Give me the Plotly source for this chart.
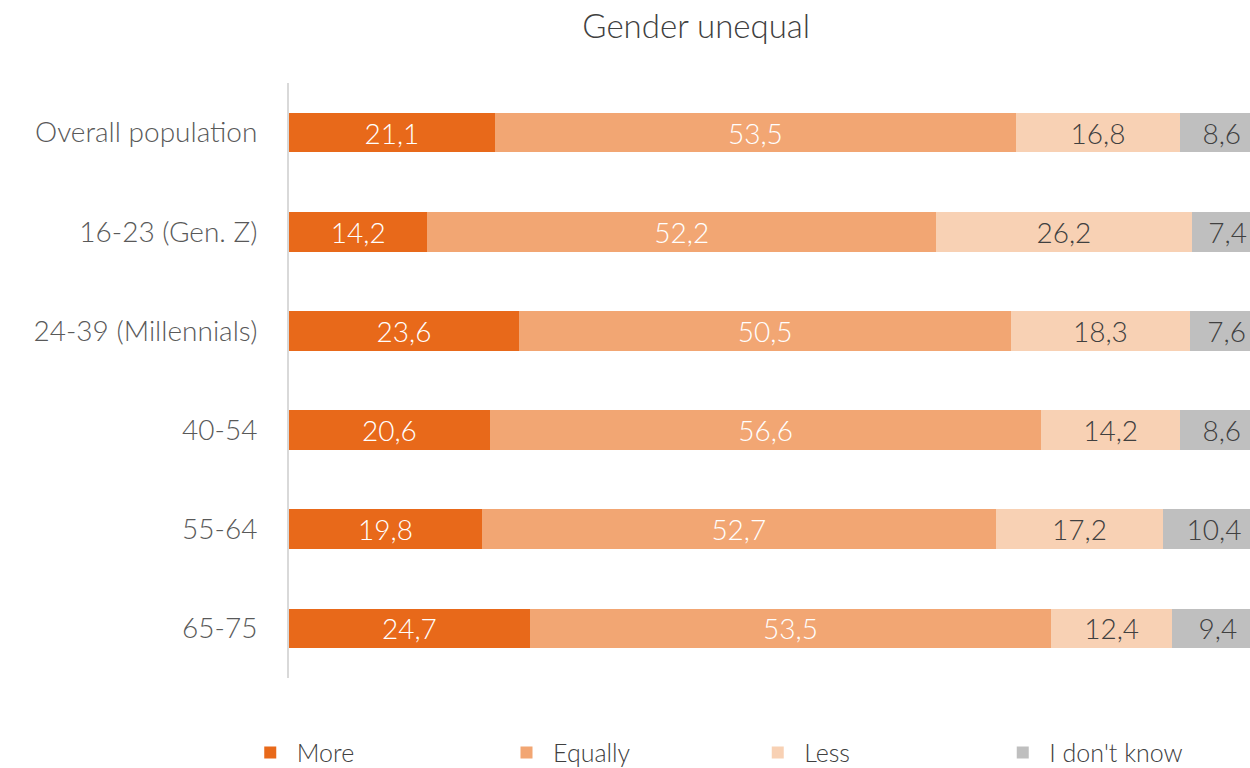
"""Gender unequal: stacked horizontal bars by age group."""
import plotly.graph_objects as go

CATEGORIES = [
    "Overall population",
    "16-23 (Gen. Z)",
    "24-39 (Millennials)",
    "40-54",
    "55-64",
    "65-75",
]
MORE = [21.1, 14.2, 23.6, 20.6, 19.8, 24.7]
EQUALLY = [53.5, 52.2, 50.5, 56.6, 52.7, 53.5]
LESS = [16.8, 26.2, 18.3, 14.2, 17.2, 12.4]
DONT_KNOW = [8.6, 7.4, 7.6, 8.6, 10.4, 9.4]

SERIES = [
    ("More", MORE, "#E8691A", "white"),
    ("Equally", EQUALLY, "#F2A673", "white"),
    ("Less", LESS, "#F8D1B4", "#404040"),
    ("I don't know", DONT_KNOW, "#BFBFBF", "#404040"),
]

# one legend box per series, spread along the bottom (container fraction)
LEGEND_X = [0.195, 0.4, 0.601, 0.797]

FONT = "Lato"


def main() -> None:
    fig = go.Figure()
    legend_layout = {}
    for idx, (name, values, color, text_color) in enumerate(SERIES):
        legend_id = "legend" if idx == 0 else f"legend{idx + 1}"
        fig.add_trace(
            go.Bar(
                y=CATEGORIES,
                x=values,
                name=name,
                orientation="h",
                marker=dict(color=color, line=dict(width=0)),
                text=[f"{v:.1f}".replace(".", ",") for v in values],
                textposition="inside",
                insidetextanchor="middle",
                textangle=0,
                constraintext="none",
                cliponaxis=True,
                textfont=dict(family=FONT, size=28, color=text_color, weight=300),
                hoverinfo="skip",
                legend=legend_id,
            )
        )
        legend_layout[legend_id] = dict(
            orientation="h",
            xref="container",
            yref="container",
            x=LEGEND_X[idx],
            y=0.02,
            xanchor="left",
            yanchor="middle",
            itemwidth=43,
            bgcolor="rgba(0,0,0,0)",
            font=dict(family=FONT, size=25, color="#404040", weight=300),
            itemclick=False,
        )

    fig.update_layout(
        barmode="stack",
        bargap=0.6,
        width=1250,
        height=768,
        margin=dict(l=289, r=0, t=83, b=90),
        paper_bgcolor="white",
        plot_bgcolor="white",
        font=dict(family=FONT, color="#595959"),
        title=dict(
            text="Gender unequal",
            x=0.557,
            xanchor="center",
            y=0.965,
            yanchor="middle",
            font=dict(family=FONT, size=33, color="#404040", weight=300),
        ),
        showlegend=True,
        **legend_layout,
    )
    fig.update_xaxes(range=[0, 98.6], visible=False, fixedrange=True)
    fig.update_yaxes(
        autorange="reversed",
        showline=True,
        linecolor="#D9D9D9",
        linewidth=2,
        ticks="",
        ticklabelstandoff=24,
        tickfont=dict(family=FONT, size=28, color="#595959", weight=300),
        showgrid=False,
        fixedrange=True,
    )

    fig.write_html(
        "out.html",
        config={"displayModeBar": False},
        post_script="document.body.style.margin='0';document.body.style.overflow='hidden';",
    )


if __name__ == "__main__":
    main()
